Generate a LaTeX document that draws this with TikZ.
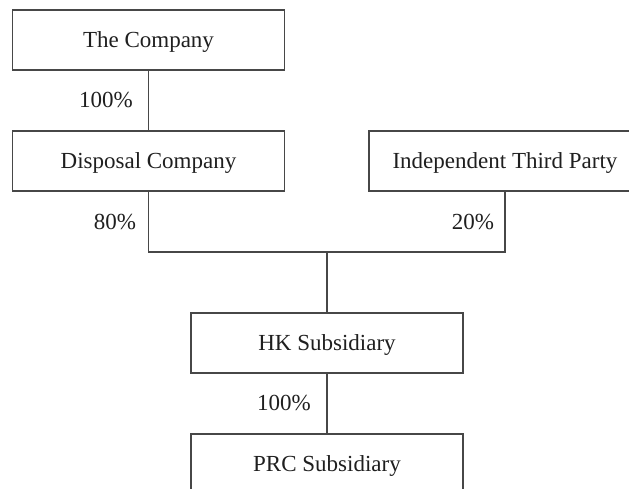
\documentclass[tikz,border=0pt]{standalone}
\usepackage{fontspec}
\setmainfont{Liberation Serif}
\begin{document}
\begin{tikzpicture}[x=0.5pt,y=-0.5pt,
  box/.style={draw=black!72,line width=0.6pt,minimum width=136pt,minimum height=30pt,inner sep=0pt,text height=7.6pt,text depth=0pt,anchor=center,text=black!88,font=\fontsize{11.5}{13}\selectfont},
  lbl/.style={inner sep=0pt,anchor=center,text height=7.6pt,text depth=0pt,text=black!88,font=\fontsize{11.5}{13}\selectfont},
  conn/.style={draw=black!72,line width=0.6pt}]
\useasboundingbox (0,0) rectangle (629,489);
\clip (0,0) rectangle (629,489);
\node[box] (co) at (148.5,40) {The Company};
\node[box] (dc) at (148.5,161) {Disposal Company};
\node[box] (itp) at (505,161) {Independent Third Party};
\node[box] (hk) at (327,343) {HK Subsidiary};
\node[box] (prc) at (327,464) {PRC Subsidiary};
\coordinate (j1) at (148.5,252);
\coordinate (j2) at (505,252);
\coordinate (jm) at (327,252);
\draw[conn] (co.south) -- (dc.north);
\draw[conn] (dc.south) -- (j1) -- (j2) -- (itp.south);
\draw[conn] (jm) -- (hk.north);
\draw[conn] (hk.south) -- (prc.north);
\node[lbl] (l1) at (106,100) {100\%};
\node[lbl] (l2) at (115,222) {80\%};
\node[lbl] (l3) at (473,222) {20\%};
\node[lbl] (l4) at (284,403) {100\%};
\end{tikzpicture}
\end{document}
